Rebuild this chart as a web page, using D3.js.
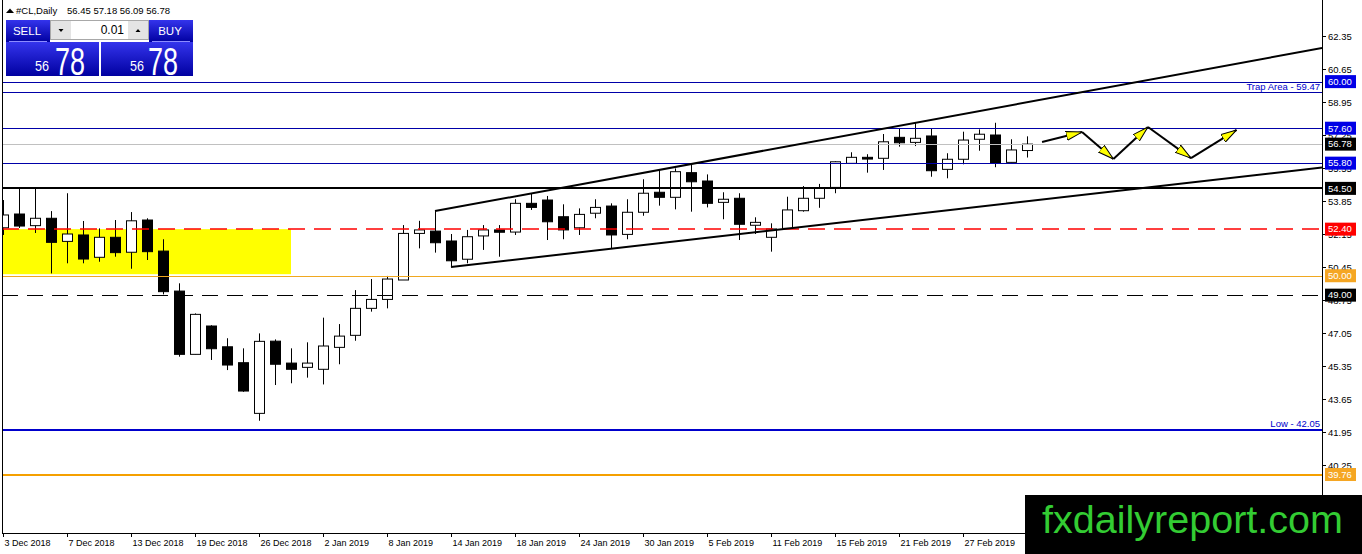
<!DOCTYPE html>
<html lang="en">
<head>
<meta charset="UTF-8" />
<title>#CL,Daily</title>
<script src="https://d3js.org/d3.v7.min.js"></script>
<style>
  body { margin: 0; background: #fff; }
  svg text { font-family: "Liberation Sans", Arial, sans-serif; }
</style>
</head>
<body>
<script>

// daily bars, 3 Dec 2018 .. 5 Mar 2019 (index 0 .. 64)
var opens  = [52.47,53.18,52.58,52.96,51.77,52.10,50.95,51.98,51.21,52.87,51.27,49.21,45.95,47.41,46.34,45.52,42.91,46.63,45.50,45.28,
              45.18,46.31,46.93,48.32,48.78,49.78,52.18,52.30,51.79,50.85,52.05,52.36,52.25,53.73,53.90,53.04,52.47,53.22,53.59,52.13,
              53.27,54.30,54.04,55.31,54.88,53.78,53.99,52.60,51.98,52.44,53.35,53.99,54.55,55.79,56.10,56.05,57.13,56.87,57.20,55.48,
              56.00,57.03,57.25,55.84,56.45];
var highs  = [53.90,54.52,54.50,53.33,54.25,52.82,52.44,52.87,53.28,52.96,51.88,49.61,48.06,47.45,46.78,46.26,47.03,46.72,46.26,46.57,
              47.84,47.51,49.26,49.83,49.99,52.61,52.83,53.33,52.15,52.36,52.61,52.61,53.94,54.25,54.11,53.68,53.47,53.94,53.73,53.94,
              54.97,55.45,55.53,55.79,55.22,54.30,54.25,53.01,52.70,54.07,54.62,54.73,55.90,56.36,56.26,57.30,57.60,57.88,57.60,56.31,
              57.42,57.54,57.88,57.03,57.18];
var lows   = [52.10,52.46,52.20,50.12,50.64,50.64,50.72,50.98,50.36,50.81,49.04,45.83,45.95,45.66,45.14,44.02,42.53,44.37,44.46,44.75,
              44.40,45.44,46.65,48.15,48.32,49.78,51.41,51.19,50.46,50.64,51.33,50.98,52.10,53.39,51.84,51.88,52.10,52.96,51.41,51.88,
              53.09,53.61,53.42,53.30,53.52,52.91,51.84,52.15,51.24,52.44,53.30,53.50,54.25,55.77,55.31,55.45,56.65,56.68,55.10,55.02,
              55.74,56.44,55.59,55.84,56.09];
var closes = [53.13,52.56,52.96,51.72,52.15,50.86,51.98,51.19,52.83,51.24,49.18,45.95,48.01,46.24,45.40,44.06,46.62,45.44,45.18,45.50,
              46.38,46.89,48.32,48.78,49.83,52.18,52.36,51.70,50.77,52.01,52.36,52.24,53.73,53.52,52.78,52.36,53.16,53.52,52.10,53.27,
              54.25,54.04,55.36,54.84,53.73,53.94,52.65,52.75,52.41,53.39,53.99,54.50,55.87,56.10,56.01,56.90,56.85,57.08,55.41,56.00,
              56.99,57.29,55.79,56.48,56.78];

var dateIdx    = [0, 4, 8, 12, 16, 20, 24, 28, 32, 36, 40, 44, 48, 52, 56, 60];
var dateLabels = ["3 Dec 2018", "7 Dec 2018", "13 Dec 2018", "19 Dec 2018", "26 Dec 2018", "2 Jan 2019", "8 Jan 2019",
                  "14 Jan 2019", "18 Jan 2019", "24 Jan 2019", "30 Jan 2019", "5 Feb 2019", "11 Feb 2019", "15 Feb 2019",
                  "21 Feb 2019", "27 Feb 2019"];

var priceTicks = [62.35, 60.65, 58.95, 57.25, 55.55, 53.85, 52.15, 50.45, 48.75, 47.05, 45.35, 43.65, 41.95, 40.25, 38.55];

// horizontal levels drawn on the chart
var levelNames  = ["r60", "trap", "r576", "bid", "r558", "s545", "s524", "s50", "s49", "low", "s3976"];
var levelPrices = [60.00, 59.47, 57.60, 56.78, 55.80, 54.50, 52.40, 50.00, 49.00, 42.05, 39.76];
var levelTexts  = {trap: "Trap Area - 59.47", low: "Low - 42.05"};

// channel lines: [bar index, price]
var upperTrend = [[27, 53.33], [82.44, 61.73]];
var lowerTrend = [[28, 50.45], [82.44, 55.575]];

// projected path (arrows)
var zigzag = [[64.94, 56.89], [67.44, 57.40], [69.4, 56.01], [71.56, 57.66], [74.25, 56.06], [77.1, 57.51]];

// yellow zone
var zoneBars   = [-2, 18];
var zonePrices = [52.40, 50.08];

var symbol = "#CL,Daily";
var site = "fxdailyreport.com";

var W = 1362, H = 554;
var left = 2, right = 1322, bottom = 533;

var x = d3.scaleLinear().domain([0, 64]).range([3, 1027]);
var y = d3.scaleLinear().domain([62.35, 45.35]).range([36, 366]);

var svg = d3.select("body").append("svg")
  .attr("width", W).attr("height", H);

var defs = svg.append("defs");
defs.append("clipPath").attr("id", "plotClip")
  .append("rect").attr("x", left + 1).attr("y", 0).attr("width", right - left - 1).attr("height", bottom);

var grad = defs.append("linearGradient").attr("id", "btn")
  .attr("x1", 0).attr("y1", 0).attr("x2", 0).attr("y2", 1);
grad.append("stop").attr("offset", "0%").attr("stop-color", "#3434ec");
grad.append("stop").attr("offset", "100%").attr("stop-color", "#0000a0");

defs.append("marker").attr("id", "head")
  .attr("viewBox", "0 0 16 10").attr("refX", 16).attr("refY", 5)
  .attr("markerWidth", 16).attr("markerHeight", 10)
  .attr("markerUnits", "userSpaceOnUse").attr("orient", "auto")
  .append("path").attr("d", "M0,0.5 L16,5 L0,9.5 Z")
  .attr("fill", "#ffff00").attr("stroke", "#000").attr("stroke-width", 1);

var plotG = svg.append("g").attr("clip-path", "url(#plotClip)");

// zone
plotG.append("rect")
  .attr("x", x(zoneBars[0])).attr("y", y(zonePrices[0]))
  .attr("width", x(zoneBars[1]) - x(zoneBars[0]))
  .attr("height", y(zonePrices[1]) - y(zonePrices[0]))
  .attr("fill", "#ffff00");

// candles
var idx = d3.range(opens.length);
var candle = plotG.append("g").selectAll("g").data(idx).enter().append("g");

candle.append("line")
  .attr("x1", function(i) { return Math.round(x(i)) + 0.5; })
  .attr("x2", function(i) { return Math.round(x(i)) + 0.5; })
  .attr("y1", function(i) { return y(highs[i]); })
  .attr("y2", function(i) { return y(lows[i]); })
  .attr("stroke", "#000").attr("stroke-width", 1);

candle.append("rect")
  .attr("x", function(i) { return Math.round(x(i)) - 4.5; })
  .attr("y", function(i) { return y(Math.max(opens[i], closes[i])); })
  .attr("width", 10)
  .attr("height", function(i) { return Math.max(1, Math.abs(y(opens[i]) - y(closes[i]))); })
  .attr("fill", function(i) { return closes[i] >= opens[i] ? "#fff" : "#000"; })
  .attr("stroke", "#000").attr("stroke-width", 1);

// levels
var levelStyle = {
  r60:   {stroke: "#0000a8", width: 1, box: "#0000e6"},
  trap:  {stroke: "#0000a8", width: 1},
  r576:  {stroke: "#0000a8", width: 1, box: "#0000e6"},
  bid:   {stroke: "#c0c0c0", width: 1, box: "#000"},
  r558:  {stroke: "#0000a8", width: 1, box: "#0000e6"},
  s545:  {stroke: "#000", width: 2, box: "#000"},
  s524:  {stroke: "#ff0000", width: 1.6, dash: "17,9", box: "#ff0000"},
  s50:   {stroke: "#f0a820", width: 1, box: "#f5a623"},
  s49:   {stroke: "#000", width: 1, dash: "16,9", box: "#000"},
  low:   {stroke: "#0000cc", width: 2},
  s3976: {stroke: "#f5a000", width: 2, box: "#f5a623"}
};

levelNames.forEach(function(n, k) {
  var st = levelStyle[n], py = Math.round(y(levelPrices[k])) + (st.width === 1 ? 0.5 : 0);
  plotG.append("line")
    .attr("x1", left).attr("x2", right).attr("y1", py).attr("y2", py)
    .attr("stroke", st.stroke).attr("stroke-width", st.width)
    .attr("stroke-dasharray", st.dash || null);
  if (levelTexts[n]) {
    svg.append("text").attr("x", right - 2).attr("y", py - 3)
      .attr("text-anchor", "end").attr("font-size", "9.5px").attr("fill", "#0000cc")
      .text(levelTexts[n]);
  }
});

// channel
[upperTrend, lowerTrend].forEach(function(t) {
  plotG.append("line")
    .attr("x1", x(t[0][0])).attr("y1", y(t[0][1]))
    .attr("x2", x(t[1][0])).attr("y2", y(t[1][1]))
    .attr("stroke", "#000").attr("stroke-width", 2);
});

// arrows
for (var k = 0; k < zigzag.length - 1; k++) {
  plotG.append("line")
    .attr("x1", x(zigzag[k][0])).attr("y1", y(zigzag[k][1]))
    .attr("x2", x(zigzag[k + 1][0])).attr("y2", y(zigzag[k + 1][1]))
    .attr("stroke", "#000").attr("stroke-width", 2)
    .attr("marker-end", "url(#head)");
}

// frame
svg.append("line").attr("x1", left + 0.5).attr("x2", left + 0.5).attr("y1", 0).attr("y2", bottom + 0.5)
  .attr("stroke", "#000");
svg.append("line").attr("x1", left).attr("x2", right + 0.5).attr("y1", bottom + 0.5).attr("y2", bottom + 0.5)
  .attr("stroke", "#000");
svg.append("line").attr("x1", right + 0.5).attr("x2", right + 0.5).attr("y1", 0).attr("y2", bottom + 0.5)
  .attr("stroke", "#000");

// price axis
var pa = svg.append("g");
priceTicks.forEach(function(p) {
  var py = Math.round(y(p)) + 0.5;
  pa.append("line").attr("x1", right).attr("x2", right + 4).attr("y1", py).attr("y2", py).attr("stroke", "#000");
  pa.append("text").attr("x", right + 6).attr("y", py).attr("dy", "0.35em")
    .attr("font-size", "9.5px").attr("fill", "#000").text(p.toFixed(2));
});

// level boxes on the axis
levelNames.forEach(function(n, k) {
  var st = levelStyle[n];
  if (!st.box) return;
  var py = y(levelPrices[k]);
  pa.append("rect").attr("x", right + 3).attr("y", py - 6.5).attr("width", 31).attr("height", 13)
    .attr("fill", st.box);
  pa.append("text").attr("x", right + 6).attr("y", py).attr("dy", "0.35em")
    .attr("font-size", "9.5px").attr("fill", "#fff").text(levelPrices[k].toFixed(2));
});

// time axis
dateIdx.forEach(function(i, k) {
  var px = Math.round(x(i)) + 0.5;
  svg.append("line").attr("x1", px).attr("x2", px).attr("y1", bottom).attr("y2", bottom + 4).attr("stroke", "#000");
  svg.append("text").attr("x", px + 1).attr("y", 546)
    .attr("font-size", "9px").attr("fill", "#000").text(dateLabels[k]);
});

// title
var last = opens.length - 1;
svg.append("path").attr("d", "M6,13 L10,8.5 L14,13 Z").attr("fill", "#000");
svg.append("text").attr("x", 16).attr("y", 14).attr("font-size", "9.5px").text(symbol);
svg.append("text").attr("x", 67).attr("y", 14).attr("font-size", "9.5px")
  .text([opens[last], highs[last], lows[last], closes[last]].map(function(v) { return v.toFixed(2); }).join(" "));

// one-click trading panel
var px0 = closes[last].toFixed(2).split(".");
var panel = svg.append("g");
panel.append("rect").attr("x", 6).attr("y", 20).attr("width", 44).attr("height", 22).attr("fill", "url(#btn)");
panel.append("rect").attr("x", 149).attr("y", 20).attr("width", 44).attr("height", 22).attr("fill", "url(#btn)");
panel.append("rect").attr("x", 6).attr("y", 42).attr("width", 93).attr("height", 34).attr("fill", "url(#btn)");
panel.append("rect").attr("x", 101).attr("y", 42).attr("width", 92).attr("height", 34).attr("fill", "url(#btn)");
panel.append("line").attr("x1", 9).attr("x2", 47).attr("y1", 41.5).attr("y2", 41.5).attr("stroke", "#8c8cff");
panel.append("line").attr("x1", 152).attr("x2", 190).attr("y1", 41.5).attr("y2", 41.5).attr("stroke", "#8c8cff");
panel.append("rect").attr("x", 50.5).attr("y", 20.5).attr("width", 98).attr("height", 19)
  .attr("fill", "#fff").attr("stroke", "#a8a8a8");
panel.append("rect").attr("x", 51).attr("y", 21).attr("width", 20).attr("height", 18).attr("fill", "#e4e4e4");
panel.append("rect").attr("x", 128).attr("y", 21).attr("width", 20).attr("height", 18).attr("fill", "#e4e4e4");
panel.append("path").attr("d", "M58.5,29 L63.5,29 L61,32 Z").attr("fill", "#000");
panel.append("path").attr("d", "M135.5,32 L140.5,32 L138,29 Z").attr("fill", "#000");
panel.append("text").attr("x", 124).attr("y", 34).attr("text-anchor", "end")
  .attr("font-size", "12px").attr("fill", "#000").text("0.01");
panel.append("text").attr("x", 27).attr("y", 35).attr("text-anchor", "middle")
  .attr("font-size", "11.5px").attr("fill", "#fff").text("SELL");
panel.append("text").attr("x", 170).attr("y", 35).attr("text-anchor", "middle")
  .attr("font-size", "11.5px").attr("fill", "#fff").text("BUY");
[[35, 55], [130, 148]].forEach(function(p) {
  panel.append("text").attr("x", p[0]).attr("y", 71).attr("font-size", "15px").attr("fill", "#fff")
    .attr("textLength", 14).attr("lengthAdjust", "spacingAndGlyphs").text(px0[0]);
  panel.append("text").attr("x", p[1]).attr("y", 75).attr("font-size", "38px").attr("fill", "#fff")
    .attr("textLength", 30).attr("lengthAdjust", "spacingAndGlyphs").text(px0[1]);
});

// watermark
svg.append("rect").attr("x", 1025).attr("y", 495).attr("width", W - 1025).attr("height", H - 495).attr("fill", "#000");
svg.append("text").attr("x", 1042).attr("y", 533).attr("font-size", "38px").attr("fill", "#33cc33")
  .attr("textLength", 301).attr("lengthAdjust", "spacingAndGlyphs").text(site);

</script>
</body>
</html>
